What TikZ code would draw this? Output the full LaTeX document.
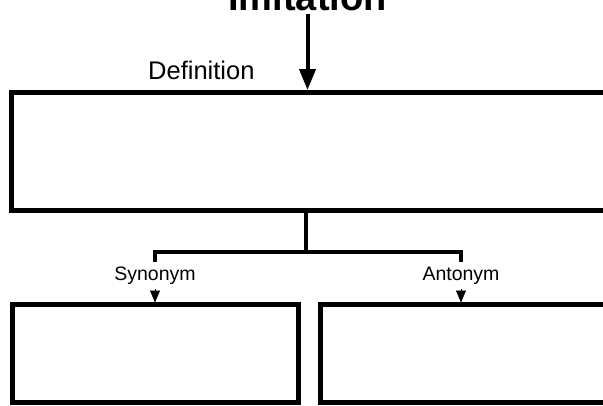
\documentclass[tikz,border=0pt]{standalone}
\usepackage{fontspec}
\setmainfont{Liberation Sans}
\usetikzlibrary{arrows.meta}
\begin{document}
\begin{tikzpicture}[x=1pt,y=-1pt,
  boxline/.style={draw,line width=5pt,inner sep=0pt,outer sep=0pt,anchor=north west},
  conn/.style={line width=4pt},
  lbl/.style={font=\fontsize{19.5}{19.5}\selectfont,inner sep=0pt,anchor=base},
  bigarrow/.style={line width=4pt,-{Triangle[width=16pt,length=21pt]}},
  smallarrow/.style={line width=0.5pt,-{Triangle[width=10pt,length=12pt]}}]
\useasboundingbox (0,0) rectangle (603,405);
\clip (0,0) rectangle (603,405);
% title
\node[font=\bfseries\fontsize{38}{38}\selectfont,inner sep=0pt,anchor=base] (title) at (307.5,10) {Imitation};
% boxes
\node[boxline,minimum width=608.5pt,minimum height=118pt] (def) at (11.5,92.5) {};
\node[boxline,minimum width=285.5pt,minimum height=98pt] (syn) at (12.5,304.5) {};
\node[boxline,minimum width=300pt,minimum height=98pt] (ant) at (320,304.5) {};
% labels
\node[lbl,font=\fontsize{25.5}{25.5}\selectfont,anchor=base west] (deflbl) at (148,79) {Definition};
\node[lbl] (synlbl) at (155,280) {Synonym};
\node[lbl] (antlbl) at (461,280) {Antonym};
% connectors
\draw[bigarrow,shorten <=4pt,shorten >=2.5pt] (title.base) -- (title.base |- def.north);
\coordinate (hub) at (306,252);
\coordinate (sj) at (155,262);
\coordinate (aj) at (461,262);
\draw[conn] (hub |- def.south) -- (hub);
\draw[conn] (sj) -- (sj |- hub) -- (aj |- hub) -- (aj);
\coordinate (sa) at (155,289);
\coordinate (aa) at (461,289);
\draw[smallarrow,shorten >=2pt] (sa) -- (sa |- syn.north);
\draw[smallarrow,shorten >=2pt] (aa) -- (aa |- ant.north);
\end{tikzpicture}
\end{document}
